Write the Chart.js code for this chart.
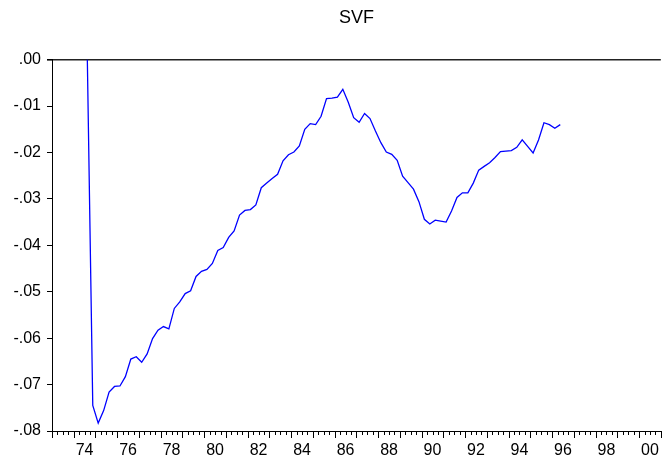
<!DOCTYPE html>
<html>
<head>
<meta charset="utf-8">
<title>SVF</title>
<script src="https://cdn.jsdelivr.net/npm/chart.js@4/dist/chart.umd.min.js"></script>
<style>
  body { margin: 0; background: #fff; }
  canvas { display: block; }
</style>
</head>
<body>
<canvas id="chart" width="669" height="459"></canvas>
<script>
// quarterly series, first observation 1974Q3
const startYear = 1974
const startQuarter = 3

const svf = [
    0.0000, -0.0745,
    -0.0783, -0.0756, -0.0716, -0.0704,
    -0.0703, -0.0683, -0.0645, -0.0640,
    -0.0652, -0.0634, -0.0601, -0.0583,
    -0.0575, -0.0580, -0.0536, -0.0522,
    -0.0504, -0.0498, -0.0467, -0.0456,
    -0.0452, -0.0439, -0.0411, -0.0405,
    -0.0383, -0.0369, -0.0335, -0.0325,
    -0.0323, -0.0313, -0.0276, -0.0266,
    -0.0256, -0.0247, -0.0218, -0.0205,
    -0.0199, -0.0186, -0.0150, -0.0138,
    -0.0140, -0.0122, -0.0084, -0.0083,
    -0.0081, -0.0064, -0.0092, -0.0125,
    -0.0135, -0.0116, -0.0127, -0.0154,
    -0.0179, -0.0199, -0.0204, -0.0217,
    -0.0251, -0.0265, -0.0279, -0.0306,
    -0.0344, -0.0354, -0.0346, -0.0348,
    -0.0350, -0.0326, -0.0297, -0.0287,
    -0.0287, -0.0266, -0.0238, -0.0230,
    -0.0222, -0.0211, -0.0198, -0.0197,
    -0.0196, -0.0189, -0.0173, -0.0187,
    -0.0201, -0.0173, -0.0136, -0.0140,
    -0.0148, -0.0140
]

const xLabelYears = [1974, 1976, 1978, 1980, 1982, 1984, 1986, 1988, 1990, 1992, 1994, 1996, 1998, 2000]
const xTickLabels = ['74', '76', '78', '80', '82', '84', '86', '88', '90', '92', '94', '96', '98', '00']
const yTicks = [0, -0.01, -0.02, -0.03, -0.04, -0.05, -0.06, -0.07, -0.08]
const yTickLabels = ['.00', '-.01', '-.02', '-.03', '-.04', '-.05', '-.06', '-.07', '-.08']

const xMin = 1973
const xMax = 2001

// each observation sits in the middle of its quarter
const points = svf.map((v, i) => ({
    x: startYear + (startQuarter - 1 + i) / 4 + 0.125,
    y: v
}))

// quarter / year tick marks under the date axis
const dateTicks = {
    id: 'dateTicks',
    afterDraw(chart) {
        const sx = chart.scales.x
        const ctx = chart.ctx
        const base = chart.chartArea.bottom
        ctx.save()
        ctx.strokeStyle = '#000'
        ctx.lineWidth = 1
        ctx.beginPath()
        for (let q = xMin * 4; q <= xMax * 4; q++) {
            const px = Math.round(sx.getPixelForValue(q / 4)) + 0.5
            const len = q % 4 === 0 ? 7 : 4
            ctx.moveTo(px, base)
            ctx.lineTo(px, base + len)
        }
        ctx.stroke()
        ctx.restore()
    }
}

const font = { family: '"Liberation Sans", Arial, sans-serif', size: 16 }

new Chart(document.getElementById('chart').getContext('2d'), {
    type: 'line',
    data: {
        datasets: [{
            label: 'SVF',
            data: points,
            borderColor: '#0000ff',
            borderWidth: 1.3,
            pointRadius: 0,
            tension: 0,
            fill: false
        }]
    },
    options: {
        responsive: false,
        animation: false,
        layout: { padding: { left: 0, right: 1, top: 0, bottom: 0 } },
        plugins: {
            legend: { display: false },
            tooltip: { enabled: false },
            title: {
                display: true,
                fullSize: false,
                text: 'SVF',
                color: '#000',
                font: { family: font.family, size: 18, weight: 'normal' },
                padding: { top: 7, bottom: 31 }
            }
        },
        scales: {
            x: {
                type: 'linear',
                min: xMin,
                max: xMax,
                afterBuildTicks: axis => {
                    axis.ticks = xLabelYears.map(y => ({ value: y + 0.5 }))
                },
                afterFit: axis => { axis.height = 28 },
                ticks: {
                    autoSkip: false,
                    maxRotation: 0,
                    padding: 10,
                    color: '#000',
                    font: font,
                    callback: (v, i) => xTickLabels[i]
                },
                grid: { display: true, drawOnChartArea: false, drawTicks: false },
                border: { display: true, color: '#000', width: 1 }
            },
            y: {
                min: -0.08,
                max: 0,
                afterBuildTicks: axis => {
                    axis.ticks = yTicks.map(v => ({ value: v }))
                },
                afterFit: axis => { axis.width = 52 },
                ticks: {
                    padding: 6,
                    color: '#000',
                    font: font,
                    callback: v => yTickLabels[yTicks.findIndex(t => Math.abs(t - v) < 1e-9)]
                },
                grid: {
                    drawOnChartArea: true,
                    color: c => c.tick && Math.abs(c.tick.value) < 1e-9 ? '#222' : 'rgba(0,0,0,0)',
                    lineWidth: c => c.tick && Math.abs(c.tick.value) < 1e-9 ? 1.6 : 1,
                    tickColor: '#000',
                    tickLength: 5
                },
                border: { display: true, color: '#000', width: 1 }
            }
        }
    },
    plugins: [dateTicks]
})
</script>
</body>
</html>
